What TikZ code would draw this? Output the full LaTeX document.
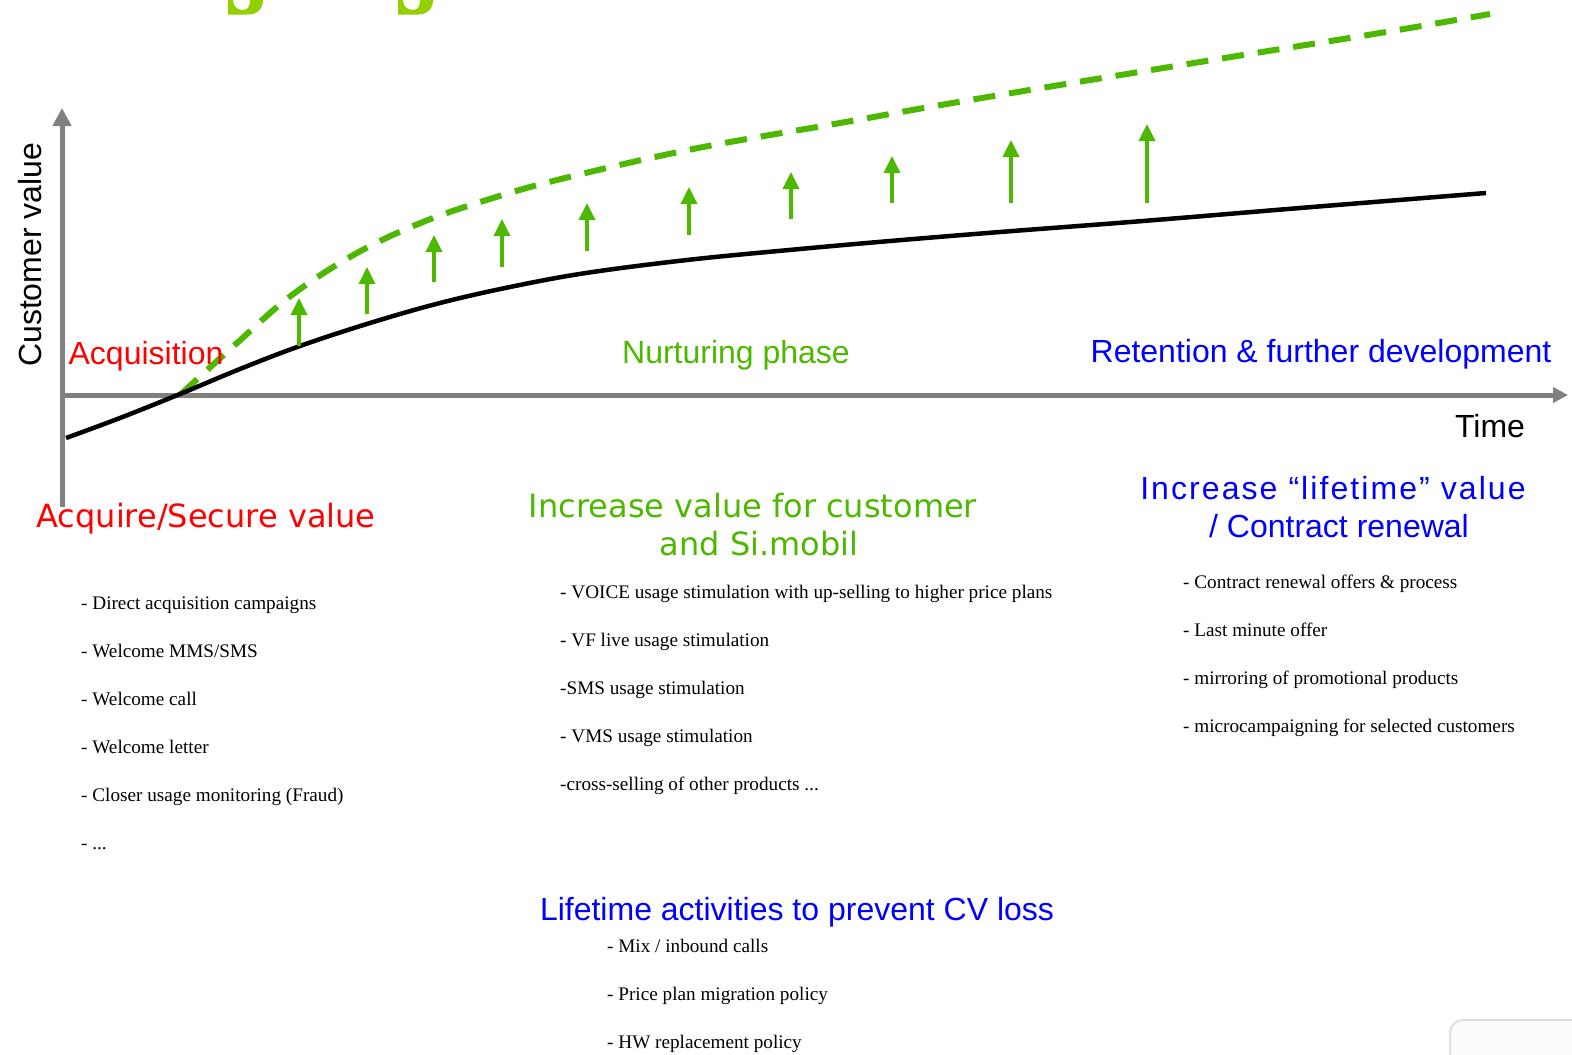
\documentclass[tikz,border=0pt]{standalone}
\usepackage{fontspec}
\setmainfont{Liberation Serif}
\newfontfamily\arialf{Liberation Sans}
\newfontfamily\arialsp[LetterSpace=6.5]{Liberation Sans}
\newfontfamily\verdf{DejaVu Sans}
\usetikzlibrary{arrows.meta}

\definecolor{cvgreen}{RGB}{77,184,0}
\definecolor{cvlime}{RGB}{146,208,0}
\definecolor{cvblue}{RGB}{0,0,255}
\definecolor{cvred}{RGB}{255,0,0}
\definecolor{axisgray}{RGB}{128,128,128}

\tikzset{
  axisline/.style={draw=axisgray, line width=5pt},
  liftarrow/.style={draw=cvgreen, line width=3.5pt, -{Triangle[length=17pt,width=16pt]}},
  phase/.style={font=\arialf\fontsize{32}{32}\selectfont, anchor=base, inner sep=0pt},
  head/.style={font=\verdf\fontsize{32}{32}\selectfont, anchor=base, inner sep=0pt},
  item/.style={font=\fontsize{19.2}{19.2}\selectfont, anchor=base west, inner sep=0pt},
}

\begin{document}
\begin{tikzpicture}[x=1pt,y=-1pt]
\useasboundingbox[fill=white] (0,0) rectangle (1572,1055);

% descenders of the heading above the chart
\fill[cvlime] (228,0) -- (228,14.5) -- (248,14.5) .. controls (258,14.5) and (263,8) .. (263,0)
  -- (250,0) .. controls (250,6) and (248,10) .. (243,10) .. controls (238,10) and (233,7) .. (233,0) -- cycle;
\fill[cvlime] (398,0) -- (398,14.5) -- (418,14.5) .. controls (428,14.5) and (433,8) .. (433,0)
  -- (420,0) .. controls (420,6) and (418,10) .. (413,10) .. controls (408,10) and (403,7) .. (403,0) -- cycle;

% axes
\coordinate (origin) at (62,395);
\coordinate (ybottom) at (62,507);
\coordinate (ytop) at (62,108);
\coordinate (xend) at (1568,395);
\draw[axisline, -{Triangle[length=18pt,width=18pt]}] (ybottom) -- (ytop);
\draw[axisline, -{Triangle[length=15pt,width=15pt]}] (origin) -- (xend);

% target value (dashed) and current value (solid)
\draw[cvgreen, line width=6pt, dash pattern=on 22pt off 14pt]
  plot[smooth, tension=0.6] coordinates {(181,394) (237,343) (292,295) (357,253) (423,222) (493,198)
  (565,178) (693,149) (840,123) (970,100) (1200,62) (1380,33) (1490,14)};
\draw[black, line width=4.5pt]
  plot[smooth, tension=0.6] coordinates {(66,438) (120,418) (180,394) (240,369) (300,346) (370,323)
  (440,303) (510,287) (586,273) (687,260) (789,250) (890,241) (1000,232) (1143,221) (1300,208) (1486,193)};

% uplift arrows
\foreach \i/\x/\yb/\yt in {1/299/346/298, 2/367/314/267, 3/434/282/235, 4/502/267/219, 5/587/251/203,
  6/689/235/187, 7/791/219/172, 8/892/203/156, 9/1011/203/140, 10/1147/203/124} {
  \coordinate (lb\i) at (\x,\yb);
  \coordinate (lt\i) at (\x,\yt);
  \draw[liftarrow] (lb\i) -- (lt\i);
}

% axis labels
\node[phase, anchor=base west, rotate=90] (cv) at (41,367) {Customer value};
\node[phase] (time) at (1490,437) {Time};

% phases
\node[phase, text=cvred] (acq) at (146,364) {Acquisition};
\node[phase, text=cvgreen] (nurt) at (736,363) {Nurturing phase};
\node[phase, text=cvblue] (ret) at (1321,362) {Retention \& further development};

% column headings
\node[head, text=cvred] (h1) at (206,527) {Acquire/Secure value};
\node[head, text=cvgreen] (h2a) at (753,517) {Increase value for customer};
\node[head, text=cvgreen] (h2b) at (759,555) {and Si.mobil};
\node[phase, text=cvblue, font=\arialsp\fontsize{32}{32}\selectfont] (h3a) at (1333,499) {Increase “lifetime” value};
\node[phase, text=cvblue] (h3b) at (1339,537) {/ Contract renewal};
\node[phase, text=cvblue] (h4) at (797,920) {Lifetime activities to prevent CV loss};

% activity lists
\node[item] (l1) at (81,609) {- Direct acquisition campaigns};
\node[item] (l2) at (81,657) {- Welcome MMS/SMS};
\node[item] (l3) at (81,705) {- Welcome call};
\node[item] (l4) at (81,753) {- Welcome letter};
\node[item] (l5) at (81,801) {- Closer usage monitoring (Fraud)};
\node[item] (l6) at (81,849) {- ...};

\node[item] (m1) at (560,598) {- VOICE usage stimulation with up-selling to higher price plans};
\node[item] (m2) at (560,646) {- VF live usage stimulation};
\node[item] (m3) at (560,694) {-SMS usage stimulation};
\node[item] (m4) at (560,742) {- VMS usage stimulation};
\node[item] (m5) at (560,790) {-cross-selling of other products ...};

\node[item] (r1) at (1183,588) {- Contract renewal offers \& process};
\node[item] (r2) at (1183,636) {- Last minute offer};
\node[item] (r3) at (1183,684) {- mirroring of promotional products};
\node[item] (r4) at (1183,732) {- microcampaigning for selected customers};

\node[item] (b1) at (607,952) {- Mix / inbound calls};
\node[item] (b2) at (607,1000) {- Price plan migration policy};
\node[item] (b3) at (607,1048) {- HW replacement policy};

% panel corner at the lower right
\begin{scope}
\clip (0,0) rectangle (1572,1055);
\draw[gray!25, line width=2pt, fill=gray!2, rounded corners=13pt] (1450,1020) rectangle (1620,1100);
\end{scope}
\end{tikzpicture}
\end{document}
